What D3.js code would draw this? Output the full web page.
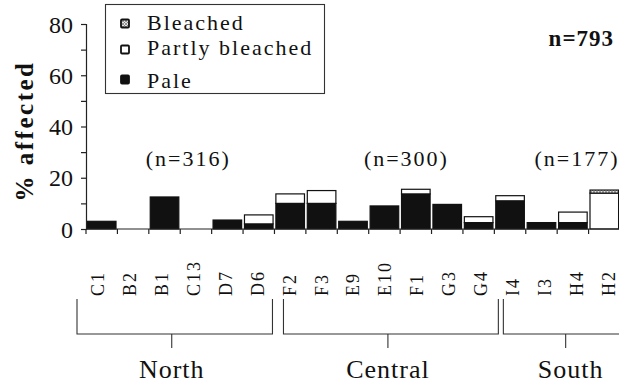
<!DOCTYPE html>
<html>
<head>
<meta charset="utf-8">
<script src="https://cdn.jsdelivr.net/npm/d3@7/dist/d3.min.js"></script>
<style>
  html, body { margin: 0; padding: 0; background: #fff; }
  svg { display: block; }
</style>
</head>
<body>
<svg id="chart" width="619" height="387"></svg>
<script>
// Reef sites, ordered north to south
const sites = ["C1", "B2", "B1", "C13", "D7", "D6", "F2", "F3", "E9", "E10", "F1", "G3", "G4", "I4", "I3", "H4", "H2"];
// Percentage of colonies affected, per category
const pale           = [3, 0, 12.5, 0, 3.5, 2, 10, 10, 3, 9, 13.7, 9.6, 2.5, 11, 2.5, 2.5, 0];
const partlyBleached = [0, 0, 0, 0, 0, 3.5, 3.7, 5, 0, 0, 1.8, 0, 2.3, 2, 0, 4.1, 14];
const bleached       = [0, 0, 0, 0, 0, 0, 0, 0, 0, 0, 0, 0, 0, 0, 0, 0, 1.2];
// Regions and their sample sizes
const regions = ["North", "Central", "South"];
const regionSites = [["C1", "B2", "B1", "C13", "D7", "D6"], ["F2", "F3", "E9", "E10", "F1", "G3", "G4"], ["I4", "I3", "H4", "H2"]];
const regionN = ["(n=316)", "(n=300)", "(n=177)"];
const totalN = "n=793";
const yTicks = [0, 10, 20, 30, 40, 50, 60, 70, 80];
const yLabels = [0, 20, 40, 60, 80];
const legendLabels = ["Bleached", "Partly bleached", "Pale"];

const SERIF = "'Liberation Serif', 'Times New Roman', Times, serif";
const svg = d3.select("#chart");

const x = d3.scaleBand().domain(sites).range([86, 620]).paddingInner(0.09).paddingOuter(0.045);
const xLab = d3.scaleBand().domain(sites).range([82, 624]);
const y = d3.scaleLinear().domain([0, 80]).range([229, 24]);

function txt(sel) {
  return sel.append("text").style("font-family", SERIF).style("fill", "#111");
}

// hatch for the bleached category
const defs = svg.append("defs");
const pat = defs.append("pattern").attr("id", "hatch").attr("patternUnits", "userSpaceOnUse")
  .attr("width", 3).attr("height", 3);
pat.append("rect").attr("width", 3).attr("height", 3).attr("fill", "#e4e4e4");
pat.append("path").attr("d", "M0,0L3,3M3,0L0,3").attr("stroke", "#777").attr("stroke-width", 0.7);

// stacked data
const rows = sites.map((s, i) => ({ site: s, pale: pale[i], partly: partlyBleached[i], bleached: bleached[i] }));
const stack = d3.stack().keys(["pale", "partly", "bleached"])(rows);
const fills = { pale: "#111", partly: "#fff", bleached: "url(#hatch)" };

const g = svg.append("g");
stack.forEach(layer => {
  g.selectAll(null).data(layer.filter(d => d[1] - d[0] > 0)).enter().append("rect")
    .attr("x", d => x(d.data.site))
    .attr("width", x.bandwidth())
    .attr("y", d => y(d[1]))
    .attr("height", d => y(d[0]) - y(d[1]))
    .attr("fill", fills[layer.key])
    .attr("stroke", "#111")
    .attr("stroke-width", 1.2);
});

// y axis
const yAxis = svg.append("g").attr("transform", "translate(86,0)")
  .call(d3.axisLeft(y).tickValues(yTicks).tickSize(5).tickFormat(d => yLabels.includes(d) ? d : ""));
yAxis.select(".domain").attr("stroke", "#222").attr("stroke-width", 1.2);
yAxis.selectAll(".tick line").attr("stroke", "#222").attr("stroke-width", 1.2);
yAxis.selectAll(".tick text").style("font-size", "24px").style("font-family", SERIF)
  .style("fill", "#111").attr("x", -13).attr("dy", "0.34em");

// x axis baseline with boundary ticks
const xAxisG = svg.append("g");
const x0 = x.range()[0], x1 = x.range()[1];
const bandW = (x1 - x0) / sites.length;
xAxisG.append("line").attr("x1", x0).attr("x2", x1).attr("y1", y(0)).attr("y2", y(0))
  .attr("stroke", "#222").attr("stroke-width", 1.2);
const bounds = d3.range(sites.length).map(i => x0 + i * bandW);
xAxisG.selectAll(null).data(bounds).enter().append("line")
  .attr("x1", d => d).attr("x2", d => d).attr("y1", y(0)).attr("y2", y(0) + 5)
  .attr("stroke", "#222").attr("stroke-width", 1.2);

// category labels, rotated
const labG = svg.append("g");
sites.forEach(s => {
  txt(labG)
    .attr("transform", `translate(${xLab(s) + xLab.bandwidth() / 2},296) rotate(-90)`)
    .attr("dy", "0.36em")
    .style("font-size", "18px")
    .style("letter-spacing", "2px")
    .text(s);
});

// region brackets
const bTop = 299, bBot = 334, bTick = 348;
const bracketPad = [[-9, -2], [9, 4], [9, 14]];
const nShift = [8, 22, 0];
regions.forEach((r, i) => {
  const first = regionSites[i][0], last = regionSites[i][regionSites[i].length - 1];
  const left = bounds[sites.indexOf(first)] + bracketPad[i][0];
  const right = bounds[sites.indexOf(last)] + bandW + bracketPad[i][1];
  const mid = (left + right) / 2 - 3;
  const bg = svg.append("g").attr("fill", "none").attr("stroke", "#333").attr("stroke-width", 1.1);
  bg.append("path").attr("d", `M${left},${bTop}V${bBot}H${right}V${bTop}`);
  bg.append("path").attr("d", `M${mid},${bBot}V${bTick}`);
  txt(svg).attr("x", mid + (i === 2 ? 5 : 0)).attr("y", 378).attr("text-anchor", "middle")
    .style("font-size", "26px").style("letter-spacing", "1px").text(r);
  // sample size above the region
  const nx = (bounds[sites.indexOf(first)] + bounds[sites.indexOf(last)] + bandW) / 2;
  txt(svg).attr("x", i === 2 ? 577 : nx + nShift[i]).attr("y", 166)
    .attr("text-anchor", "middle").style("font-size", "22px").style("letter-spacing", "2px").text(regionN[i]);
});

// overall sample size
txt(svg).attr("x", 614).attr("y", 46).attr("text-anchor", "end")
  .style("font-size", "23px").style("font-weight", "bold").style("letter-spacing", "1px").text(totalN);

// y-axis title
txt(svg).attr("transform", "translate(33,131) rotate(-90)")
  .attr("text-anchor", "middle").style("font-size", "25px").style("font-weight", "bold")
  .style("letter-spacing", "2.5px").text("% affected");

// legend
const lg = svg.append("g");
lg.append("rect").attr("x", 105.5).attr("y", 4.5).attr("width", 219).attr("height", 89)
  .attr("fill", "#fff").attr("stroke", "#333").attr("stroke-width", 1.1);
const legendFills = ["url(#hatch)", "#fff", "#111"];
const swatchY = [23.5, 49.5, 79.5];
const textY = [29.5, 55, 88];
legendLabels.forEach((l, i) => {
  lg.append("rect").attr("x", 121).attr("y", swatchY[i] - 4).attr("width", 8).attr("height", 8)
    .attr("fill", legendFills[i]).attr("stroke", "#111").attr("stroke-width", 1.8).attr("rx", 1);
  txt(lg).attr("x", 147).attr("y", textY[i]).style("font-size", "22px")
    .style("letter-spacing", "2px").text(l);
});
</script>
</body>
</html>
